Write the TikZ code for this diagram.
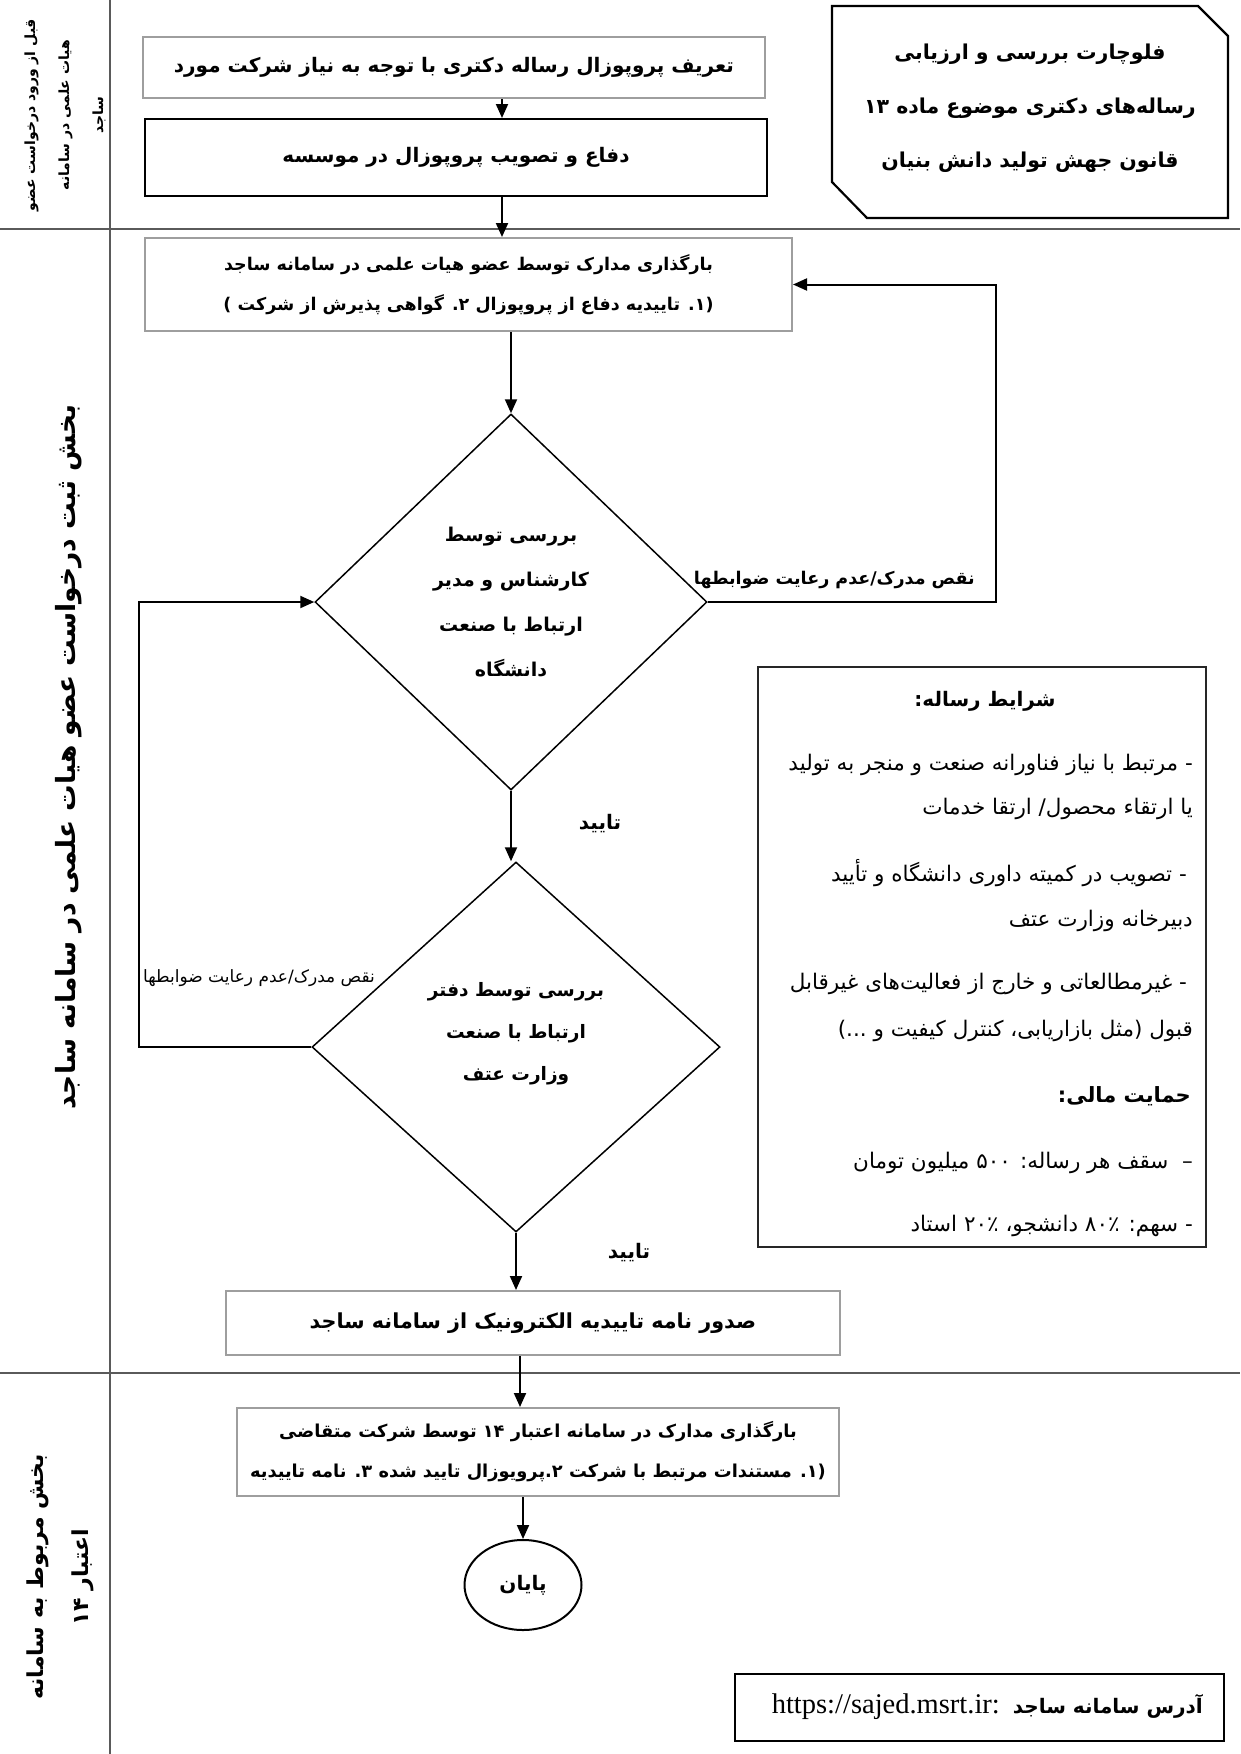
\documentclass[tikz,border=0pt]{standalone}
\usepackage{fontspec}
\setmainfont{Liberation Serif}
\newfontfamily\fafont[Script=Arabic]{DejaVu Sans}
\TeXXeTstate=1
\usetikzlibrary{arrows.meta,shapes.geometric,calc}
\newcommand{\rtl}[1]{\beginR #1\endR}
\definecolor{boxgray}{HTML}{9E9E9E}
\definecolor{lanegray}{HTML}{5A5A5A}
\tikzset{
  graybox/.style={draw=boxgray, line width=2pt, fill=white, inner sep=0pt, align=center},
  blackbox/.style={draw=black, line width=2pt, fill=white, inner sep=0pt, align=center},
  decision/.style={diamond, draw=black, line width=1.5pt, inner sep=0pt, align=center},
  arr/.style={line width=2pt, -{Triangle[length=14pt,width=12pt]}},
  lane/.style={draw=lanegray, line width=1.6pt},
  lbl/.style={inner sep=0pt, align=center},
}
\begin{document}
\begin{tikzpicture}[x=1pt,y=-1pt]
\fill[white] (0,0) rectangle (1240,1754);
\path[use as bounding box] (0,0) rectangle (1240,1754);

% lanes
\draw[lane] (110,0) -- (110,1754);
\draw[lane] (0,229) -- (1240,229);
\draw[lane] (0,1373) -- (1240,1373);

% lane labels
\node[lbl, rotate=90, font=\fafont\bfseries\fontsize{14}{34}\selectfont] (lane1) at (65,115)
  {\rtl{قبل از ورود درخواست عضو}\\\rtl{هیات علمی در سامانه}\\\rtl{ساجد}};
\node[lbl, rotate=90, font=\fafont\bfseries\fontsize{26.5}{40}\selectfont] (lane2) at (69,757)
  {\rtl{بخش ثبت درخواست عضو هیات علمی در سامانه ساجد}};
\node[lbl, rotate=90, font=\fafont\bfseries\fontsize{22}{45}\selectfont] (lane3) at (60,1577)
  {\rtl{بخش مربوط به سامانه}\\\rtl{اعتبار ۱۴}};

% title
\draw[line width=2.2pt] (832,6) -- (1198,6) -- (1228,36) -- (1228,218) -- (867,218) -- (832,182) -- cycle;
\node[lbl, font=\fafont\bfseries\fontsize{20.5}{54}\selectfont] (title) at (1030,108)
  {\rtl{فلوچارت بررسی و ارزیابی}\\\rtl{رساله‌های دکتری موضوع ماده ۱۳}\\\rtl{قانون جهش تولید دانش بنیان}};

% main flow
\node[graybox, minimum width=622, minimum height=61, font=\fafont\bfseries\fontsize{20}{30}\selectfont] (A) at (454,67.5)
  {\rtl{تعریف پروپوزال رساله دکتری با توجه به نیاز شرکت مورد}};
\node[blackbox, minimum width=622, minimum height=77, font=\fafont\bfseries\fontsize{20}{30}\selectfont] (B) at (456,157.5)
  {\rtl{دفاع و تصویب پروپوزال در موسسه}};
\node[graybox, minimum width=647, minimum height=93, font=\fafont\bfseries\fontsize{17.5}{40}\selectfont] (C) at (468.5,284.5)
  {\rtl{بارگذاری مدارک توسط عضو هیات علمی در سامانه ساجد}\\\rtl{(۱. تاییدیه دفاع از پروپوزال ۲. گواهی پذیرش از شرکت )}};
\node[decision, minimum width=392, minimum height=376, font=\fafont\bfseries\fontsize{19}{45}\selectfont] (D1) at (511,602)
  {\rtl{بررسی توسط}\\\rtl{کارشناس و مدیر}\\\rtl{ارتباط با صنعت}\\\rtl{دانشگاه}};
\node[decision, minimum width=408, minimum height=370] (D2) at (516,1047) {};
\node[lbl, font=\fafont\bfseries\fontsize{18.5}{42}\selectfont] (D2t) at (516,1034)
  {\rtl{بررسی توسط دفتر}\\\rtl{ارتباط با صنعت}\\\rtl{وزارت عتف}};
\node[graybox, minimum width=614, minimum height=64, font=\fafont\bfseries\fontsize{20.7}{30}\selectfont] (E) at (533,1323)
  {\rtl{صدور نامه تاییدیه الکترونیک از سامانه ساجد}};
\node[graybox, minimum width=602, minimum height=88, font=\fafont\bfseries\fontsize{17.8}{40}\selectfont] (F) at (538,1452)
  {\rtl{بارگذاری مدارک در سامانه اعتبار ۱۴ توسط شرکت متقاضی}\\\rtl{(۱. مستندات مرتبط با شرکت ۲.پرویوزال تایید شده ۳. نامه تاییدیه}};
\node[ellipse, draw=black, line width=2pt, minimum width=117, minimum height=90, inner sep=0pt, font=\fafont\bfseries\fontsize{20}{24}\selectfont] (end) at (523,1585)
  {\rtl{پایان}};

% columns
\coordinate (c1) at (502,0);
\coordinate (c3) at (520,0);
\coordinate (fbl) at (139,0);
\coordinate (fbr) at (996,0);

\draw[arr] (A.south -| c1) -- (B.north -| c1);
\draw[arr] (B.south -| c1) -- (C.north -| c1);
\draw[arr] (C.south -| D1.north) -- (D1.north);
\draw[arr] (D1.south) -- (D1.south |- D2.north);
\draw[arr] (D2.south) -- (D2.south |- E.north);
\draw[arr] (E.south -| c3) -- (F.north -| c3);
\draw[arr] (F.south -| end.north) -- (end.north);

% feedback loops
\draw[arr] (D1.east) -- (D1.east -| fbr) -- (C.east -| fbr) -- (C.east);
\draw[arr] (D2.west) -- (D2.west -| fbl) -- (D1.west -| fbl) -- (D1.west);

\node[lbl, anchor=east, font=\fafont\bfseries\fontsize{17.5}{20}\selectfont] (nq1) at (975,580)
  {\rtl{نقص مدرک/عدم رعایت ضوابطها}};
\node[lbl, font=\fafont\fontsize{17}{20}\selectfont] (nq2) at (259,978)
  {\rtl{نقص مدرک/عدم رعایت ضوابطها}};
\node[lbl, font=\fafont\bfseries\fontsize{20}{24}\selectfont] (ok1) at (600,824) {\rtl{تایید}};
\node[lbl, font=\fafont\bfseries\fontsize{20}{24}\selectfont] (ok2) at (629,1253) {\rtl{تایید}};

% conditions box
\node[draw=black!85, line width=1.6pt, minimum width=448, minimum height=580, inner sep=0pt] (cond) at (982,957) {};
\node[lbl, font=\fafont\bfseries\fontsize{20}{24}\selectfont] (h1) at (985,701) {\rtl{شرایط رساله:}};
\begin{scope}[every node/.style={lbl, anchor=east, font=\fafont\fontsize{21.5}{24}\selectfont}]
\node (l1) at (1193,765) {\rtl{- مرتبط با نیاز فناورانه صنعت و منجر به تولید}};
\node (l2) at (1193,809) {\rtl{یا ارتقاء محصول/ ارتقا خدمات}};
\node (l3) at (1187,873) {\rtl{- تصویب در کمیته داوری دانشگاه و تأیید}};
\node (l4) at (1193,921) {\rtl{دبیرخانه وزارت عتف}};
\node (l5) at (1187,984) {\rtl{- غیرمطالعاتی و خارج از فعالیت‌های غیرقابل}};
\node (l6) at (1193,1031) {\rtl{قبول (مثل بازاریابی، کنترل کیفیت و ...)}};
\node (l8) at (1193,1163) {\rtl{–\ \ سقف هر رساله: ۵۰۰ میلیون تومان}};
\node (l9) at (1193,1226) {\rtl{- سهم: ۸۰٪ دانشجو، ۲۰٪ استاد}};
\end{scope}
\node[lbl, anchor=east, font=\fafont\bfseries\fontsize{21}{24}\selectfont] (h2) at (1191,1096) {\rtl{حمایت مالی:}};

% URL box
\node[draw=black, line width=2pt, minimum width=489, minimum height=67, inner sep=0pt] (urlbox) at (979.5,1707.5) {};
\node[lbl, anchor=east] (url) at (1203,1707)
  {{\fontsize{28.5}{30}\selectfont https://sajed.msrt.ir:}\hspace{13pt}{\fafont\bfseries\fontsize{20}{24}\selectfont\rtl{آدرس سامانه ساجد}}};
\end{tikzpicture}
\end{document}
